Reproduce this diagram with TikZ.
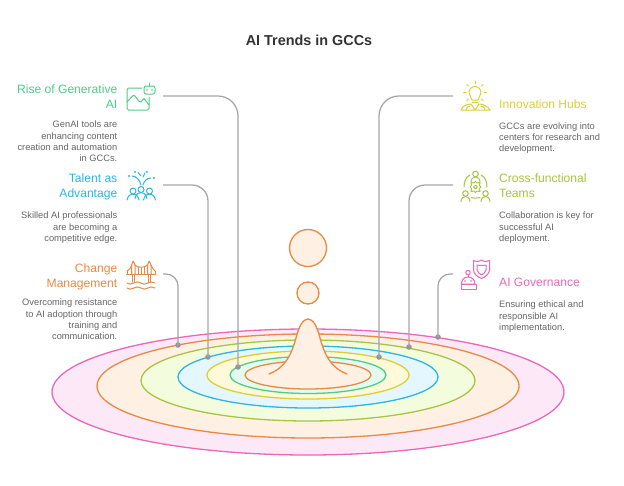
\documentclass[tikz,border=0pt]{standalone}
\usepackage{fontspec}
\setmainfont{Liberation Sans}
\usetikzlibrary{calc}
\definecolor{cpink}{HTML}{E968B8}\definecolor{fpink}{HTML}{FDE8F7}
\definecolor{corange}{HTML}{E68A45}\definecolor{forange}{HTML}{FFF0E4}
\definecolor{clime}{HTML}{A6C544}\definecolor{flime}{HTML}{F3FCDC}
\definecolor{cblue}{HTML}{2FB5E2}\definecolor{fblue}{HTML}{E4F7FE}
\definecolor{cyel}{HTML}{DDCF32}\definecolor{fyel}{HTML}{FFF9DA}
\definecolor{cgreen}{HTML}{4FCC88}\definecolor{fgreen}{HTML}{E3FBEF}
\definecolor{cline}{HTML}{A6A6A6}\definecolor{cbody}{HTML}{666666}
\tikzset{
  x=1pt,y=-1pt,
  ring/.style={line width=1.3pt},
  icon/.style={line width=1pt,line cap=round,line join=round},
  wire/.style={draw=cline,line width=1.25pt,rounded corners=#1},
  wire/.default=16pt,
  dot/.style={circle,fill=cline!90!black,inner sep=0pt,minimum size=5.5pt},
  headl/.style={anchor=north east,align=right,font=\fontsize{12.1}{15}\selectfont,inner sep=0pt},
  headr/.style={anchor=north west,align=left,font=\fontsize{12.1}{15}\selectfont,inner sep=0pt},
  bodyl/.style={anchor=north east,align=right,text=cbody,font=\fontsize{9.3}{11.2}\selectfont,inner sep=0pt},
  bodyr/.style={anchor=north west,align=left,text=cbody,font=\fontsize{9.3}{11.2}\selectfont,inner sep=0pt},
}
\begin{document}
\begin{tikzpicture}
\useasboundingbox (0,0) rectangle (624,485);
\fill[white] (0,0) rectangle (624,485);
% rings
\foreach \cy/\rx/\ry/\c/\f in {392/256/63/cpink/fpink,386/211/52/corange/forange,380.5/167/40.5/clime/flime,377/130/31/cblue/fblue,375/101/24/cyel/fyel,375/78/18.5/cgreen/fgreen,375/63/14/corange/forange}
  \draw[ring,draw=\c,fill=\f] (308,\cy) ellipse [x radius=\rx pt,y radius=\ry pt];
% peak and drops
\fill[forange] (269,374) .. controls (287,367) and (292,352) .. (296,338) .. controls (299,326) and (303,319) .. (308,319) .. controls (313,319) and (317,326) .. (320,338) .. controls (324,352) and (329,367) .. (347,374) -- (347,378) -- (269,378) -- cycle;
\draw[ring,draw=corange,line cap=round] (269,374) .. controls (287,367) and (292,352) .. (296,338) .. controls (299,326) and (303,319) .. (308,319) .. controls (313,319) and (317,326) .. (320,338) .. controls (324,352) and (329,367) .. (347,374);
\node[circle,draw=corange,fill=forange,line width=1.3pt,minimum size=37pt,inner sep=0pt] (drop1) at (308,248) {};
\node[circle,draw=corange,fill=forange,line width=1.3pt,minimum size=22pt,inner sep=0pt] (drop2) at (308,293) {};
% title
\node[font=\bfseries\fontsize{14.4}{16}\selectfont,text=black!80] (title) at (309,40) {AI Trends in GCCs};
% connector ends
\coordinate (s1) at (163,96); \coordinate (s2) at (163,185); \coordinate (s3) at (163,274);
\coordinate (s4) at (453,96); \coordinate (s5) at (453,185); \coordinate (s6) at (453,274);
\node[dot] (e1) at (238,367) {};
\node[dot] (e2) at (208,357) {};
\node[dot] (e3) at (178,345) {};
\node[dot] (e4) at (379,357) {};
\node[dot] (e5) at (409,347) {};
\node[dot] (e6) at (438,337) {};
\draw[wire=20pt] (s1) -| (e1.center);
\draw[wire=16pt] (s2) -| (e2.center);
\draw[wire=12pt] (s3) -| (e3.center);
\draw[wire=20pt] (s4) -| (e4.center);
\draw[wire=16pt] (s5) -| (e5.center);
\draw[wire=12pt] (s6) -| (e6.center);
% texts left
\node[headl,text=cgreen] (h1) at (117.5,85) {Rise of Generative\\AI};
\node[bodyl] (b1) at (117.5,121) {GenAI tools are\\enhancing content\\creation and automation\\in GCCs.};
\node[headl,text=cblue] (h2) at (117.5,173.5) {Talent as\\Advantage};
\node[bodyl] (b2) at (117.5,212) {Skilled AI professionals\\are becoming a\\competitive edge.};
\node[headl,text=corange] (h3) at (117.5,263.5) {Change\\Management};
\node[bodyl] (b3) at (117.5,299) {Overcoming resistance\\to AI adoption through\\training and\\communication.};
% texts right
\node[headr,text=cyel] (h4) at (499,99.5) {Innovation Hubs};
\node[bodyr] (b4) at (499,122.5) {GCCs are evolving into\\centers for research and\\development.};
\node[headr,text=clime] (h5) at (499,173.5) {Cross-functional\\Teams};
\node[bodyr] (b5) at (499,212) {Collaboration is key for\\successful AI\\deployment.};
\node[headr,text=cpink] (h6) at (499,278) {AI Governance};
\node[bodyr] (b6) at (499,301) {Ensuring ethical and\\responsible AI\\implementation.};
% icon: generative AI
\begin{scope}[icon,draw=cgreen]
\draw[rounded corners=1.5pt] (142,88) -- (127,88) -- (127,110) -- (149,110) -- (149,97);
\draw (127,102) -- (133,95.5) .. controls (136,94) and (138,103) .. (141,102) -- (144,98.5) -- (149,105);
\draw[rounded corners=2pt] (144,86) rectangle (155,94);
\draw (149.5,83) -- (149.5,86);
\fill[cgreen] (147,90) circle (.9pt) (152,90) circle (.9pt);
\end{scope}
% icon: talent
\begin{scope}[icon,draw=cblue]
\foreach \x/\y in {133/191,141/189.5,149.5/191} {
  \draw (\x,\y) circle (3pt);
  \draw (\x-6,\y+9) .. controls (\x-5,\y+4) and (\x-2,\y+3) .. (\x,\y+3) .. controls (\x+2,\y+3) and (\x+5,\y+4) .. (\x+6,\y+9);
}
\draw (132,176) .. controls (136,176) and (140,180) .. (141,185);
\draw (143,185) .. controls (144,181) and (147,178) .. (151,178);
\draw (138,172.5) -- (141,176) (143,177) -- (145,173);
\fill[cblue] (129,176) circle (1.2pt) (135,172) circle (1.2pt) (147,172) circle (1.2pt) (154,178) circle (1.2pt);
\end{scope}
% icon: bridge
\begin{scope}[icon,draw=corange]
\draw (132,274) -- (132,282) (134.5,274) -- (134.5,282) (148,274) -- (148,282) (150.5,274) -- (150.5,282);
\draw (131.5,274) -- (131.5,265) -- (133.2,261) -- (135,265) -- (135,274);
\draw (147.5,274) -- (147.5,265) -- (149.2,261) -- (151,265) -- (151,274);
\draw (126.5,274) -- (155.5,274);
\draw (127,271) .. controls (129,270) and (131,268) .. (132,265);
\draw (135,265) .. controls (137,268) and (145,268) .. (147.5,265);
\draw (151,265) .. controls (152,268) and (154,270) .. (155,271);
\draw (127,274) -- (127,271) (155,274) -- (155,271) (138,267) -- (138,274) (141.2,268) -- (141.2,274) (144.5,267) -- (144.5,274);
\foreach \y in {283,288} \draw (127,\y) .. controls (129,\y+1.5) and (131,\y+1.5) .. (134,\y) .. controls (136,\y-1.5) and (138,\y-1.5) .. (141,\y) .. controls (143,\y+1.5) and (145,\y+1.5) .. (148,\y) .. controls (150,\y-1.5) and (152,\y-1.5) .. (155,\y);
\end{scope}
% icon: innovation
\begin{scope}[icon,draw=cyel]
\draw (472,100) .. controls (472,97) and (469,96) .. (469,92.5) .. controls (469,89) and (472,86.5) .. (475,86.5) .. controls (478,86.5) and (481,89) .. (481,92.5) .. controls (481,96) and (478,97) .. (478,100) -- cycle;
\draw (472,102) -- (478,102);
\foreach \a in {0,45,135,180,225,315,90} \draw ($(475,92.5)+(\a:9pt)$) -- ($(475,92.5)+(\a:11.5pt)$);
\draw (461,110) .. controls (462,106) and (467,104) .. (471,104) -- (475,110) -- (479,104) .. controls (483,104) and (488,106) .. (490,110) -- (461,110);
\draw (466,110) .. controls (466,108) and (468,106) .. (470,106) (485,110) .. controls (485,108) and (483,106) .. (481,106);
\end{scope}
% icon: cross-functional
\begin{scope}[icon,draw=clime]
\foreach \x/\y in {475.5/174,465.5/193.5,485.5/193.5} {
  \draw (\x,\y) circle (2.8pt);
  \draw (\x-4.5,\y+8) .. controls (\x-4.5,\y+4.5) and (\x-2,\y+3) .. (\x,\y+3) .. controls (\x+2,\y+3) and (\x+4.5,\y+4.5) .. (\x+4.5,\y+8);
}
\draw (475.5,187) circle (1.8pt);
\draw (475.5,181.5) -- (477,183) -- (480,182.5) -- (479.5,185.5) -- (481,187) -- (479.5,188.5) -- (480,191.5) -- (477,191) -- (475.5,192.5) -- (474,191) -- (471,191.5) -- (471.5,188.5) -- (470,187) -- (471.5,185.5) -- (471,182.5) -- (474,183) -- cycle;
\draw (470,175) .. controls (466,177) and (464,181) .. (464,187);
\draw (481,175) .. controls (485,177) and (487,181) .. (487,187);
\draw (471,197.5) .. controls (474,198.5) and (477,198.5) .. (480,197.5);
\end{scope}
% icon: governance
\begin{scope}[icon,draw=cpink]
\draw (473.5,260.5) .. controls (476,262) and (478,262) .. (481.5,260) .. controls (485,262) and (487,262) .. (489.5,260.5) -- (489.5,270) .. controls (489.5,274) and (485,277) .. (481.5,278.5) .. controls (478,277) and (473.5,274) .. (473.5,270) -- cycle;
\draw (477,265) .. controls (479,265.5) and (484,265.5) .. (486,265) -- (486,270) .. controls (486,272) and (483,274) .. (481.5,275) .. controls (480,274) and (477,272) .. (477,270) -- cycle;
\draw (468,272.5) circle (2.2pt);
\draw (468,274.7) -- (468,277);
\draw (461.5,284) .. controls (461.5,280) and (464,277) .. (468,277) .. controls (472,277) and (475,280) .. (475,284) -- cycle;
\draw (461,284) -- (461,289) -- (476,289) -- (476,284) -- cycle;
\fill[cpink] (465,281) circle (.8pt) (471,281) circle (.8pt);
\end{scope}
\end{tikzpicture}
\end{document}
